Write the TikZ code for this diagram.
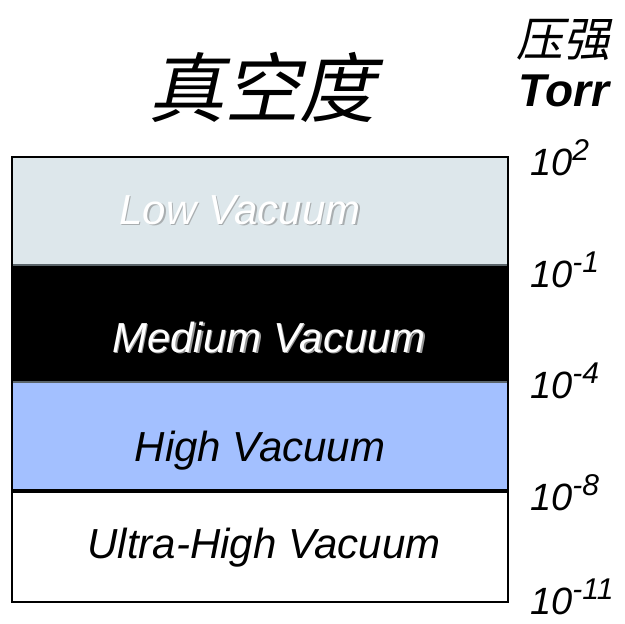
\documentclass[tikz,border=0pt]{standalone}
\usepackage{fontspec}
\setmainfont{Liberation Sans}
\newfontfamily\cjk[FakeSlant=0.22]{Noto Sans CJK SC}
\definecolor{lowc}{RGB}{221,231,235}
\definecolor{highc}{RGB}{163,192,255}
\definecolor{sepc}{RGB}{90,100,105}
\tikzset{
  lbl/.style={font=\fontsize{42}{42}\selectfont\itshape, inner sep=0pt},
  shd/.style={lbl, text=black!50, opacity=0.55},
  tick/.style={font=\fontsize{38}{38}\selectfont\itshape, inner sep=0pt, anchor=base west},
}
\newcommand{\pw}[1]{10\raisebox{15pt}{\fontsize{30}{30}\selectfont #1}}
\begin{document}
\begin{tikzpicture}[x=1pt,y=-1pt]
\useasboundingbox (0,0) rectangle (625,624);
% bands
\fill[lowc] (12,157) rectangle (508,265);
\fill[black] (12,265) rectangle (508,382);
\fill[highc] (12,382) rectangle (508,491);
\fill[white] (12,491) rectangle (508,602);
\draw[sepc, line width=1.5pt] (12,265) -- (508,265);
\draw[sepc, line width=1.2pt] (12,382) -- (508,382);
\draw[black, line width=4pt] (12,491) -- (508,491);
\draw[black, line width=2pt] (12,157) rectangle (508,602);
% titles
\node[font=\cjk\fontsize{76}{76}\selectfont, inner sep=0pt] (title) at (262,87) {真空度};
\node[font=\cjk\fontsize{47}{47}\selectfont, inner sep=0pt] (ya) at (563,40) {压强};
\node[font=\fontsize{46}{46}\selectfont\bfseries\itshape, inner sep=0pt, anchor=base] (torr) at (564,106) {Torr};
% band labels
\node[shd] at (241.5,211.5) {Low Vacuum};
\node[lbl, text=white] (low) at (240,210) {Low Vacuum};
\node[shd, text=black!40, opacity=1] at (270.5,338.5) {Medium Vacuum};
\node[lbl, text=white] (med) at (269,337) {Medium Vacuum};
\node[lbl] (high) at (260,451) {High Vacuum};
\node[lbl] (uhv) at (264,548) {Ultra-High Vacuum};
% pressure ticks
\node[tick] (p2) at (530,175) {\pw{2}};
\node[tick] (p1) at (530,287) {\pw{-1}};
\node[tick] (p4) at (530,398) {\pw{-4}};
\node[tick] (p8) at (530,510) {\pw{-8}};
\node[tick] (p11) at (530,614) {\pw{-11}};
\end{tikzpicture}
\end{document}
